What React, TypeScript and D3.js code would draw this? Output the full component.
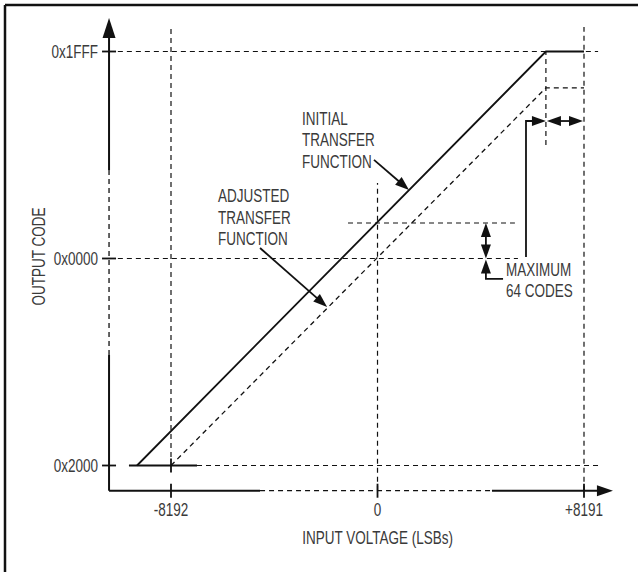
import React from 'react';
import * as d3 from 'd3';

const W = 638;
const H = 572;

// ---- data (LSBs / signed output codes) ----
const xTicks = [-8192, 0, 8191];
const xTickLabels = ['-8192', '0', '+8191'];
const yTicks = [-8192, 0, 8191];
const yTickLabels = ['0x2000', '0x0000', '0x1FFF'];

const initialTransfer: [number, number][] = [[-9540, -8192], [6680, 8191], [8191, 8191]];
const lowSaturation: [number, number][] = [[-9860, -8192], [-7160, -8192]];
const adjustedTransfer: [number, number][] = [[-8192, -8192], [6680, 6750], [8191, 6750]];
const initialAtZero = 1404;

const xAxisExtent = [-10650, 9340];
const yAxisExtent = [-9190, 9520];
const xAxisBreak = [-4660, 4540];
const yAxisBreak = [-3820, 3500];

// horizontal guides: [y, xFrom, xTo]
const hGuides: [number, number, number][] = [
  [8191, -10300, 8750],
  [0, -10300, 5570],
  [-8192, -7160, 8750],
  [initialAtZero, -1170, 5450],
];
// vertical guides: [x, yFrom, yTo]
const vGuides: [number, number, number][] = [
  [-8192, -7860, 9080],
  [0, -9190, 2990],
  [8191, -9190, 9160],
  [6680, 4490, 8191],
];

const gapMarkerY = 5440;
const leaderX = 5890;
const leaderBottomY = 60;
const offsetMarkerX = 4300;
const offsetElbowY = -810;
const offsetElbowEndX = 4980;

const initialPointer: [number, number][] = [[-140, 3900], [1250, 2710]];
const adjustedPointer: [number, number][] = [[-4660, 415], [-2000, -1920]];

const initialLabel = ['INITIAL', 'TRANSFER', 'FUNCTION'];
const adjustedLabel = ['ADJUSTED', 'TRANSFER', 'FUNCTION'];
const maxLabel = ['MAXIMUM', '64 CODES'];
const initialLabelAt: [number, number] = [-2995, 5283];
const adjustedLabelAt: [number, number] = [-6328, 2235];
const maxLabelAt: [number, number] = [5096, -693];

const xTitle = 'INPUT VOLTAGE (LSBs)';
const yTitle = 'OUTPUT CODE';

const FONT = '"Liberation Sans", Arial, sans-serif';
const FS = 18.5;
const SX = 0.73;
const TEXT = '#3a3a3a';
const INK = '#111';

function head(tx: number, ty: number, fx: number, fy: number, len = 14, half = 5) {
  const dx = tx - fx;
  const dy = ty - fy;
  const d = Math.hypot(dx, dy) || 1;
  const ux = dx / d, uy = dy / d;
  const bx = tx - ux * len, by = ty - uy * len;
  const px = -uy * half, py = ux * half;
  return `M${tx},${ty}L${bx + px},${by + py}L${bx - px},${by - py}Z`;
}

function T({ x, y, anchor = 'start', rotate = 0, dy, children }:
  { x: number; y: number; anchor?: string; rotate?: number; dy?: string; children: React.ReactNode }) {
  return (
    <text transform={`translate(${x},${y}) rotate(${rotate}) scale(${SX},1)`} x={0} y={0} dy={dy}
      textAnchor={anchor as any} fontSize={FS} fill={TEXT}>{children}</text>
  );
}

export default function App() {
  const x = d3.scaleLinear().domain([-8192, 8191]).range([171, 584]);
  const y = d3.scaleLinear().domain([-8192, 8191]).range([465.5, 51.5]);
  const line = d3.line<[number, number]>().x(d => x(d[0])).y(d => y(d[1]));

  const axX = x(xAxisExtent[0]);
  const axY = y(yAxisExtent[0]);
  const dash = '5,4';

  const yTop = y(yAxisExtent[1]);
  const xRight = x(xAxisExtent[1]);

  const gy = y(gapMarkerY);
  const cx = x(6680), rx = x(8191);
  const ox = x(offsetMarkerX);
  const oy1 = y(initialAtZero), oy0 = y(0);

  const lh = 21.5;

  return (
    <svg width={W} height={H} style={{ position: 'absolute', left: 0, top: 0, background: '#fff' }}
      fontFamily={FONT}>
      <rect x={0} y={0} width={W} height={H} fill="#fff" />
      {/* frame */}
      <line x1={5} y1={5} x2={W} y2={5} stroke={INK} strokeWidth={2.5} />
      <line x1={5} y1={5} x2={5} y2={H} stroke={INK} strokeWidth={2.5} />

      {/* guides */}
      {hGuides.map((g, i) => (
        <line key={'h' + i} x1={x(g[1])} x2={x(g[2])} y1={y(g[0])} y2={y(g[0])}
          stroke={INK} strokeWidth={1.2} strokeDasharray={dash} />
      ))}
      {vGuides.map((g, i) => (
        <line key={'v' + i} x1={x(g[0])} x2={x(g[0])} y1={y(g[1])} y2={y(g[2])}
          stroke={INK} strokeWidth={1.2} strokeDasharray={dash} />
      ))}

      {/* y axis */}
      <line x1={axX} x2={axX} y1={axY} y2={y(yAxisBreak[0])} stroke={INK} strokeWidth={2} />
      <line x1={axX} x2={axX} y1={y(yAxisBreak[0])} y2={y(yAxisBreak[1])} stroke={INK} strokeWidth={1.3} strokeDasharray={dash} />
      <line x1={axX} x2={axX} y1={y(yAxisBreak[1])} y2={yTop + 14} stroke={INK} strokeWidth={2} />
      <path d={head(axX, yTop, axX, yTop + 20, 20, 6.5)} fill={INK} />
      {yTicks.map((t, i) => (
        <g key={'yt' + i}>
          <line x1={axX - 7} x2={axX + 7} y1={y(t)} y2={y(t)} stroke={INK} strokeWidth={1.8} />
          <T x={axX - 11} y={y(t)} dy="0.36em" anchor="end">{yTickLabels[i]}</T>
        </g>
      ))}

      {/* x axis */}
      <line x1={axX} x2={x(xAxisBreak[0])} y1={axY} y2={axY} stroke={INK} strokeWidth={2} />
      <line x1={x(xAxisBreak[0])} x2={x(xAxisBreak[1])} y1={axY} y2={axY} stroke={INK} strokeWidth={1.3} strokeDasharray={dash} />
      <line x1={x(xAxisBreak[1])} x2={xRight - 12} y1={axY} y2={axY} stroke={INK} strokeWidth={2} />
      <path d={head(xRight, axY, xRight - 20, axY, 16, 5.5)} fill={INK} />
      {xTicks.map((t, i) => (
        <g key={'xt' + i}>
          <line x1={x(t)} x2={x(t)} y1={axY - 7} y2={axY + 7} stroke={INK} strokeWidth={1.8} />
          <T x={x(t)} y={axY + 25.5} anchor="middle">{xTickLabels[i]}</T>
        </g>
      ))}
      {/* cross tick at lower-left start */}
      <line x1={x(-8192)} x2={x(-8192)} y1={y(-8192) - 7} y2={y(-8192) + 7} stroke={INK} strokeWidth={1.8} />

      {/* transfer functions */}
      <path d={line(lowSaturation) || ''} fill="none" stroke={INK} strokeWidth={1.8} />
      <path d={line(initialTransfer) || ''} fill="none" stroke={INK} strokeWidth={1.8} />
      <path d={line(adjustedTransfer) || ''} fill="none" stroke={INK} strokeWidth={1.3} strokeDasharray={dash} />

      {/* horizontal gap markers */}
      <path d={`M${x(leaderX)},${y(leaderBottomY)}V${gy}H${cx - 12}`} fill="none" stroke={INK} strokeWidth={1.8} />
      <path d={head(cx, gy, cx - 20, gy, 14, 5)} fill={INK} />
      <line x1={cx + 10} x2={rx - 10} y1={gy} y2={gy} stroke={INK} strokeWidth={1.8} />
      <path d={head(cx + 1, gy, cx + 20, gy, 14, 5)} fill={INK} />
      <path d={head(rx - 1, gy, rx - 20, gy, 14, 5)} fill={INK} />

      {/* vertical offset markers */}
      <line x1={ox} x2={ox} y1={oy1 + 10} y2={oy0 - 10} stroke={INK} strokeWidth={1.8} />
      <path d={head(ox, oy1, ox, oy1 + 20, 14, 5)} fill={INK} />
      <path d={head(ox, oy0, ox, oy0 - 20, 14, 5)} fill={INK} />
      <path d={head(ox, oy0 + 1, ox, oy0 + 20, 14, 5)} fill={INK} />
      <path d={`M${ox},${oy0 + 10}V${y(offsetElbowY)}H${x(offsetElbowEndX)}`} fill="none" stroke={INK} strokeWidth={1.8} />

      {/* pointers */}
      {[initialPointer, adjustedPointer].map((p, i) => {
        const x0 = x(p[0][0]), y0 = y(p[0][1]), x1 = x(p[1][0]), y1 = y(p[1][1]);
        const d = Math.hypot(x1 - x0, y1 - y0);
        const ex = x1 - (x1 - x0) / d * 10, ey = y1 - (y1 - y0) / d * 10;
        return (
          <g key={'p' + i}>
            <line x1={x0} y1={y0} x2={ex} y2={ey} stroke={INK} strokeWidth={1.8} />
            <path d={head(x1, y1, x0, y0, 14, 5)} fill={INK} />
          </g>
        );
      })}

      {/* labels */}
      {initialLabel.map((s, i) => (
        <T key={'il' + i} x={x(initialLabelAt[0])} y={y(initialLabelAt[1]) + i * lh}>{s}</T>
      ))}
      {adjustedLabel.map((s, i) => (
        <T key={'al' + i} x={x(adjustedLabelAt[0])} y={y(adjustedLabelAt[1]) + i * lh}>{s}</T>
      ))}
      {maxLabel.map((s, i) => (
        <T key={'ml' + i} x={x(maxLabelAt[0])} y={y(maxLabelAt[1]) + i * lh}>{s}</T>
      ))}

      {/* axis titles */}
      <T x={x(0)} y={544} anchor="middle">{xTitle}</T>
      <T x={45} y={y(0) - 2} anchor="middle" rotate={-90}>{yTitle}</T>
    </svg>
  );
}
